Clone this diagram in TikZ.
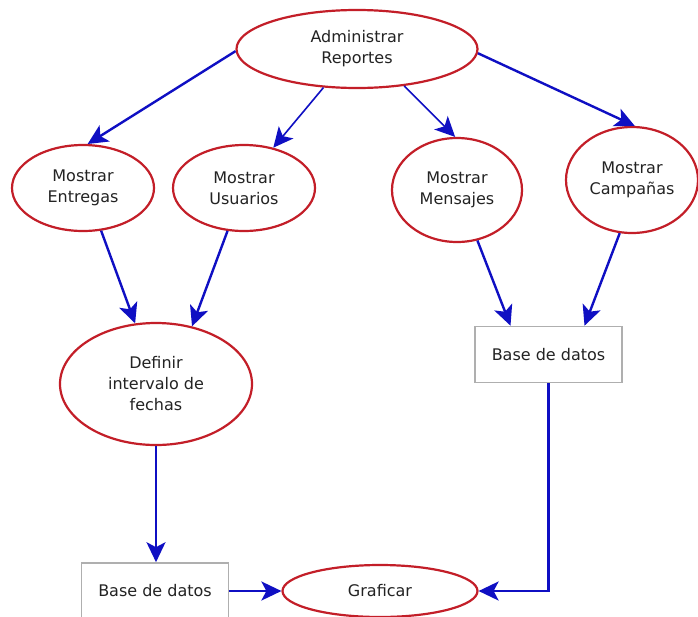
\documentclass[tikz,border=0pt]{standalone}
\usepackage{fontspec}
\setmainfont{DejaVu Sans}
\usetikzlibrary{shapes.geometric,arrows.meta}
\definecolor{elred}{RGB}{195,30,40}
\definecolor{arblue}{RGB}{15,15,195}
\definecolor{boxgray}{RGB}{175,175,175}
\definecolor{txt}{RGB}{35,35,35}
\tikzset{
  proc/.style={ellipse, draw=elred, line width=2.2pt, fill=white, inner sep=0pt,
    align=center, text=txt, font=\fontsize{16}{21}\selectfont},
  store/.style={rectangle, draw=boxgray, line width=1.6pt, fill=white, inner sep=0pt,
    minimum width=147pt, minimum height=56pt, text=txt, font=\fontsize{16}{21}\selectfont},
  arr/.style={draw=arblue, line width=2.4pt,
    -{Stealth[length=20pt,width=19pt,inset=5pt,fill=arblue]}},
  thinarr/.style={arr, line width=1.6pt}
}
\begin{document}
\begin{tikzpicture}[x=1pt,y=-1pt]
\useasboundingbox (0,0) rectangle (698,616);
\fill[white] (0,0) rectangle (698,616);

\node[proc, minimum width=241pt, minimum height=78pt] (adm) at (357,49) {Administrar\\Reportes};
\node[proc, minimum width=142pt, minimum height=86pt] (ent) at (83,188) {Mostrar\\Entregas};
\node[proc, minimum width=142pt, minimum height=86pt] (usu) at (244,188) {Mostrar\\Usuarios};
\node[proc, minimum width=130pt, minimum height=104pt] (men) at (457,190) {Mostrar\\Mensajes};
\node[proc, minimum width=132pt, minimum height=106pt] (cam) at (632,180) {Mostrar\\Campañas};
\node[proc, minimum width=192pt, minimum height=122pt] (def) at (156,384) {Definir\\intervalo de\\fechas};
\node[store] (rbox) at (548.5,354.5) {Base de datos};
\node[store] (lbox) at (155,591) {Base de datos};
\node[proc, minimum width=195pt, minimum height=52pt] (gra) at (380,591) {Graficar};

\draw[arr] (adm.181) -- (ent.84);
\draw[thinarr] (adm.229) -- (usu.54);
\draw[thinarr] (adm.322) -- (men.92);
\draw[arr] (adm.358) -- (cam.87);
\draw[arr] (ent.293) -- (def.109);
\draw[arr] (usu.249) -- (def.58);
\draw[arr] (men.292) -- ([xshift=-38pt]rbox.north);
\draw[arr] (cam.257) -- ([xshift=36pt]rbox.north);
\draw[arr] (def.south) -- (def.south |- lbox.north);
\draw[arr] (lbox.east) -- (gra.west);
\draw[arr] (rbox.south) |- (gra.east);
\end{tikzpicture}
\end{document}
